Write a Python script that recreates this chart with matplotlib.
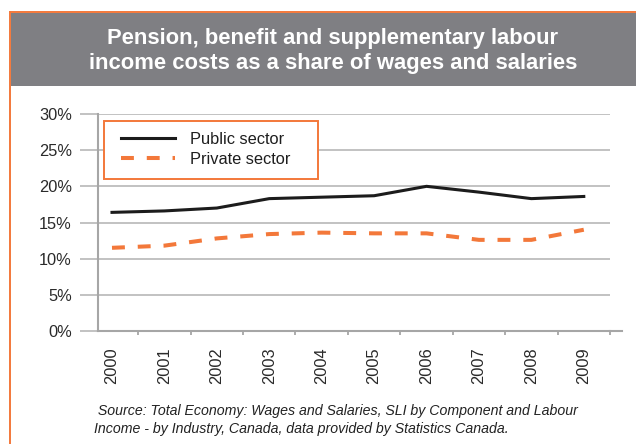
import matplotlib
matplotlib.use("Agg")
import matplotlib.pyplot as plt
from matplotlib.patches import Rectangle
from matplotlib.lines import Line2D

years = ["2000", "2001", "2002", "2003", "2004", "2005", "2006", "2007", "2008", "2009"]
public_sector = [16.4, 16.6, 17.0, 18.3, 18.5, 18.7, 20.0, 19.2, 18.3, 18.6]
private_sector = [11.5, 11.8, 12.8, 13.4, 13.6, 13.5, 13.5, 12.6, 12.6, 14.0]
y_ticks = [0, 5, 10, 15, 20, 25, 30]
y_tick_labels = ["0%", "5%", "10%", "15%", "20%", "25%", "30%"]
series_labels = ["Public sector", "Private sector"]
title = "Pension, benefit and supplementary labour\nincome costs as a share of wages and salaries"
source = (" Source: Total Economy: Wages and Salaries, SLI by Component and Labour\n"
          "Income - by Industry, Canada, data provided by Statistics Canada.")

plt.rcParams['font.family'] = ['Liberation Sans', 'DejaVu Sans']

W, H = 636, 444
fig = plt.figure(figsize=(W / 100, H / 100), dpi=100)
fig.patch.set_facecolor("white")

ORANGE = "#f3783a"
GRAY_HDR = "#7f7f83"
GRID = "#bdbdbd"
SPINE = "#a6a6a6"

def fx(px):
    return px / W

def fy(py):
    return 1 - py / H

# header band and orange frame
fig.add_artist(Rectangle((fx(11.3), fy(86)), 1 - fx(11.3), fy(12.7) - fy(86),
                         transform=fig.transFigure, facecolor=GRAY_HDR, edgecolor="none"))
fig.add_artist(Line2D([fx(9.5), 1], [fy(11.8), fy(11.8)], transform=fig.transFigure,
                      color=ORANGE, lw=1.4, solid_capstyle="butt"))
fig.add_artist(Line2D([fx(10.4), fx(10.4)], [fy(11), 0], transform=fig.transFigure,
                      color=ORANGE, lw=1.4, solid_capstyle="butt"))

fig.text(fx(333), fy(51), title, ha="center", va="center", color="white",
         fontsize=15.8, fontweight="bold", linespacing=1.25)

AX_L, AX_R, AX_T, AX_B = 98, 610, 114, 331
AW, AH = AX_R - AX_L, AX_B - AX_T
ax = fig.add_axes([fx(AX_L), fy(AX_B), fx(AX_R) - fx(AX_L), fy(AX_T) - fy(AX_B)])
x = list(range(len(years)))
ax.plot(x, public_sector, color="#1c1c1c", lw=2.2, label=series_labels[0],
        solid_joinstyle="miter")
ax.plot(x, private_sector, color=ORANGE, lw=2.9, ls=(0, (3.2, 3.2)),
        label=series_labels[1], dash_capstyle="butt")

ax.set_xlim(-0.267, 9.5)
ax.set_ylim(0, 30)
ax.set_yticks(y_ticks)
ax.set_yticklabels(y_tick_labels)
ax.yaxis.grid(True, color=GRID, lw=1.3)
ax.set_axisbelow(True)
ax.tick_params(axis="y", length=13, width=1.3, color=GRID, pad=5.8,
               labelsize=11.8, labelcolor="#2a2a2a")

ax.set_xticks([i + 0.5 for i in x])
ax.set_xticklabels([])
ax.set_xticks(x, minor=True)
ax.set_xticklabels(years, minor=True, rotation=90)
ax.tick_params(axis="x", which="major", length=3, width=1.3, color=SPINE)
ax.tick_params(axis="x", which="minor", length=0, pad=12, labelsize=11.8,
               labelcolor="#2a2a2a")
for lbl in ax.get_xticklabels(minor=True):
    lbl.set_va("top")

for s in ["top", "right"]:
    ax.spines[s].set_visible(False)
for s in ["left", "bottom"]:
    ax.spines[s].set_color(SPINE)
    ax.spines[s].set_linewidth(1.5)

# extend bottom axis slightly right, as in the reference
ax.add_artist(Line2D([1, 1 + 12 / AW], [0, 0], transform=ax.transAxes,
                     color=SPINE, lw=1.5, clip_on=False))

# legend frame (orange box)
ax.add_patch(Rectangle(((104 - AX_L) / AW, 1 - (179 - AX_T) / AH), 214 / AW, 58 / AH,
                       transform=ax.transAxes, facecolor="white", edgecolor=ORANGE,
                       lw=1.4, clip_on=False, zorder=4))
leg = ax.legend(loc="upper left", bbox_to_anchor=((121 - AX_L) / AW, 1 - (131.5 - AX_T) / AH),
                borderaxespad=0, fontsize=11.8, frameon=False,
                handlelength=3.3, handletextpad=0.9,
                labelspacing=0.35, borderpad=0)
leg.set_zorder(5)
for t in leg.get_texts():
    t.set_color("#1e1e1e")

fig.text(fx(94), fy(420), source, ha="left", va="center", fontsize=10.2,
         style="italic", color="#222222", linespacing=1.3)

fig.savefig("out.png", dpi=100)
